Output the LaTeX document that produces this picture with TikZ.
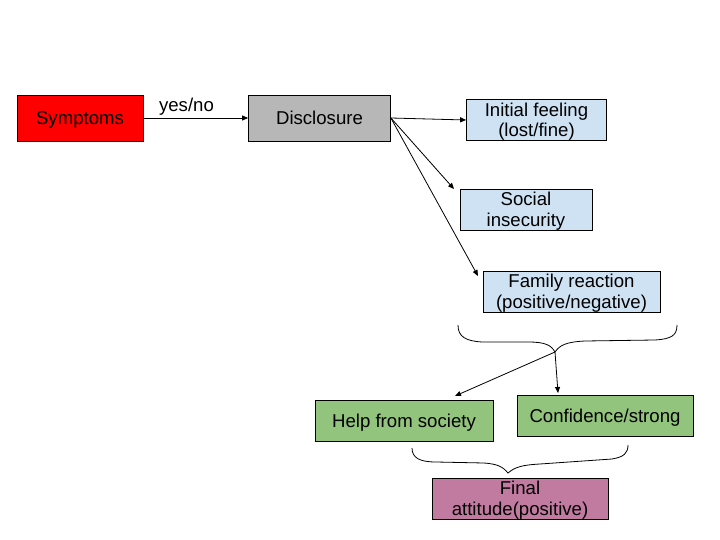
\documentclass[tikz,border=0pt]{standalone}
\usepackage{fontspec}
\setmainfont{Liberation Sans}
\usetikzlibrary{arrows.meta}
\definecolor{boxred}{HTML}{FF0000}
\definecolor{boxgray}{HTML}{B7B7B7}
\definecolor{boxblue}{HTML}{CFE2F3}
\definecolor{boxgreen}{HTML}{93C47D}
\definecolor{boxpink}{HTML}{C27BA0}
\newcommand\lowtxt[1]{\raisebox{-2.5pt}[\height][\depth]{\begin{tabular}{@{}c@{}}#1\end{tabular}}}
\tikzset{
  box/.style={draw=black, line width=0.75pt, inner sep=0pt, align=center,
    font=\fontsize{18.6}{20.5}\selectfont},
  conn/.style={line width=0.8pt, -{Triangle[length=6pt,width=5pt]}},
  brace/.style={line width=0.8pt}
}
\begin{document}
\begin{tikzpicture}[x=1pt,y=-1pt]
\useasboundingbox[fill=white] (0,0) rectangle (720,540);
\node[box, fill=boxred, minimum width=126pt, minimum height=46pt] (sym) at (80,118) {\lowtxt{Symptoms}};
\node[box, fill=boxgray, minimum width=142pt, minimum height=46pt] (dis) at (319.5,118) {\lowtxt{Disclosure}};
\node[box, fill=boxblue, minimum width=140pt, minimum height=41pt] (init) at (536.5,120) {\lowtxt{Initial feeling\\(lost/fine)}};
\node[box, fill=boxblue, minimum width=132pt, minimum height=41pt] (soc) at (526,209.5) {\lowtxt{Social\\insecurity}};
\node[box, fill=boxblue, minimum width=177pt, minimum height=41pt] (fam) at (571.5,291.5) {\lowtxt{Family reaction\\(positive/negative)}};
\node[box, fill=boxgreen, minimum width=178pt, minimum height=41pt] (help) at (404,420.5) {\lowtxt{Help from society}};
\node[box, fill=boxgreen, minimum width=176pt, minimum height=41pt] (conf) at (605,415.5) {\lowtxt{Confidence/strong}};
\node[box, fill=boxpink, minimum width=176pt, minimum height=41pt] (final) at (520,498.5) {\lowtxt{Final\\attitude(positive)}};

\node[anchor=base, inner sep=0pt, font=\fontsize{18.6}{20.5}\selectfont] (yn) at (186.5,111.7) {yes/no};
\draw[conn] (sym.east) -- (dis.west);
\coordinate (dsrc) at (dis.east);
\draw[conn] (dsrc) -- (init.west);
\coordinate (socend) at (454,189);
\coordinate (famend) at (478,276);
\draw[conn] (dsrc) -- (socend);
\draw[conn] (dsrc) -- (famend);

% brace 1
\coordinate (tip1) at (555,352);
\draw[brace] (458,325) .. controls (458,337) and (466,341) .. (482,342)
  -- (528,342) .. controls (545,342) and (551,345) .. (tip1)
  .. controls (560,345) and (566,342) .. (585,341)
  -- (655,340) .. controls (672,339) and (677,335) .. (677,325);
\coordinate (helpend) at (455,396);
\coordinate (confend) at (558,393);
\draw[conn] (tip1) -- (helpend);
\draw[conn] (tip1) -- (confend);

% brace 2
\draw[brace] (412,448) .. controls (412,458) and (420,462) .. (436,462)
  -- (484,463) .. controls (498,464) and (503,467) .. (508,473)
  .. controls (515,467) and (522,465) .. (540,464)
  -- (612,459) .. controls (624,457) and (628,453) .. (628,445);
\end{tikzpicture}
\end{document}
